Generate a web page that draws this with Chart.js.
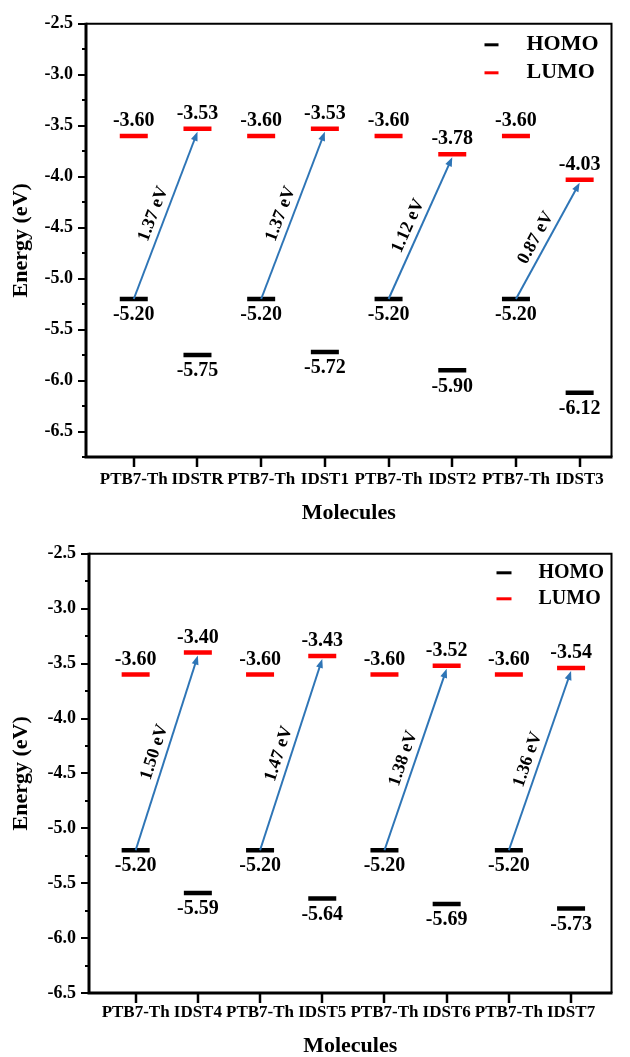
<!DOCTYPE html>
<html>
<head>
<meta charset="utf-8">
<script src="https://cdn.jsdelivr.net/npm/chart.js@4.4.1/dist/chart.umd.min.js"></script>
<style>
  body { margin: 0; background: #fff; }
  canvas { position: absolute; left: 0; }
  #chart-top { top: 0; }
  #chart-bottom { top: 530px; }
</style>
</head>
<body>
<canvas id="chart-top" width="630" height="530"></canvas>
<canvas id="chart-bottom" width="630" height="527"></canvas>
<script>
// --- data ---
const topMolecules = ["PTB7-Th", "IDSTR", "PTB7-Th", "IDST1", "PTB7-Th", "IDST2", "PTB7-Th", "IDST3"];
const topHomo = [-5.20, -5.75, -5.20, -5.72, -5.20, -5.90, -5.20, -6.12];
const topLumo = [-3.60, -3.53, -3.60, -3.53, -3.60, -3.78, -3.60, -4.03];
const topGaps = ["1.37 eV", "1.37 eV", "1.12 eV", "0.87 eV"];

const bottomMolecules = ["PTB7-Th", "IDST4", "PTB7-Th", "IDST5", "PTB7-Th", "IDST6", "PTB7-Th", "IDST7"];
const bottomHomo = [-5.20, -5.59, -5.20, -5.64, -5.20, -5.69, -5.20, -5.73];
const bottomLumo = [-3.60, -3.40, -3.60, -3.43, -3.60, -3.52, -3.60, -3.54];
const bottomGaps = ["1.50 eV", "1.47 eV", "1.38 eV", "1.36 eV"];

const SERIF = "'Liberation Serif', 'Times New Roman', serif";
const ARROW_BLUE = "#2e75b6";

// frame, ticks, value labels, arrows and legend
const energyPlugin = {
  id: "energy",
  afterDraw(chart, args, opts) {
    const { ctx, chartArea: a, scales: { x, y } } = chart;
    ctx.save();

    // frame: thick left/bottom, thinner top/right
    ctx.strokeStyle = "#000";
    ctx.lineWidth = 2;
    ctx.beginPath();
    ctx.moveTo(a.left, a.top);
    ctx.lineTo(a.right, a.top);
    ctx.lineTo(a.right, a.bottom);
    ctx.stroke();
    ctx.lineWidth = 3;
    ctx.beginPath();
    ctx.moveTo(a.left, a.top - 1);
    ctx.lineTo(a.left, a.bottom);
    ctx.lineTo(a.right + 1, a.bottom);
    ctx.stroke();

    // tick marks
    ctx.lineWidth = 2;
    y.ticks.forEach((t) => {
      const py = Math.round(y.getPixelForValue(t.value));
      const major = Math.abs(t.value * 2 - Math.round(t.value * 2)) < 1e-6;
      ctx.beginPath();
      ctx.moveTo(a.left - (major ? 8 : 4), py);
      ctx.lineTo(a.left, py);
      ctx.stroke();
    });
    ctx.lineWidth = 2.5;
    x.ticks.forEach((t) => {
      const px = Math.round(x.getPixelForValue(t.value));
      ctx.beginPath();
      ctx.moveTo(px, a.bottom);
      ctx.lineTo(px, a.bottom + 10);
      ctx.stroke();
    });

    // value labels
    ctx.fillStyle = "#000";
    ctx.font = "bold 20px " + SERIF;
    ctx.textAlign = "center";
    ctx.textBaseline = "middle";
    opts.homo.forEach((v, i) => {
      ctx.fillText(v.toFixed(2), x.getPixelForValue(i), y.getPixelForValue(v) + 16);
    });
    opts.lumo.forEach((v, i) => {
      ctx.fillText(v.toFixed(2), x.getPixelForValue(i), y.getPixelForValue(v) - 15);
    });

    // arrows donor HOMO -> acceptor LUMO
    opts.gaps.forEach((txt, k) => {
      const i0 = 2 * k, i1 = 2 * k + 1;
      const x0 = x.getPixelForValue(i0), y0 = y.getPixelForValue(opts.homo[i0]);
      const x1 = x.getPixelForValue(i1), y1 = y.getPixelForValue(opts.lumo[i1]) + 3;
      const len = Math.hypot(x1 - x0, y1 - y0);
      const ux = (x1 - x0) / len, uy = (y1 - y0) / len;
      const head = 9, half = 3.5;
      ctx.strokeStyle = ARROW_BLUE;
      ctx.fillStyle = ARROW_BLUE;
      ctx.lineWidth = 2;
      ctx.beginPath();
      ctx.moveTo(x0, y0);
      ctx.lineTo(x1 - ux * head * 0.8, y1 - uy * head * 0.8);
      ctx.stroke();
      ctx.beginPath();
      ctx.moveTo(x1, y1);
      ctx.lineTo(x1 - ux * head - uy * half, y1 - uy * head + ux * half);
      ctx.lineTo(x1 - ux * head + uy * half, y1 - uy * head - ux * half);
      ctx.closePath();
      ctx.fill();

      // gap text along the arrow, on its left side
      const mx = (x0 + x1) / 2 + uy * 12 - ux * 3;
      const my = (y0 + y1) / 2 - ux * 12 - uy * 3;
      ctx.save();
      ctx.translate(mx, my);
      ctx.rotate(Math.atan2(y1 - y0, x1 - x0));
      ctx.fillStyle = "#000";
      ctx.font = "bold 18px " + SERIF;
      ctx.fillText(txt, 0, 0);
      ctx.restore();
    });

    // legend
    const L = opts.legend;
    [["HOMO", "#000", L.y0], ["LUMO", "#ff0000", L.y1]].forEach(([name, col, dy]) => {
      const ly = a.top + dy;
      ctx.strokeStyle = col;
      ctx.lineWidth = 3;
      ctx.beginPath();
      ctx.moveTo(a.right - L.m0, ly);
      ctx.lineTo(a.right - L.m1, ly);
      ctx.stroke();
      ctx.fillStyle = "#000";
      ctx.font = "bold " + L.size + "px " + SERIF;
      ctx.textAlign = "left";
      ctx.fillText(name, a.right - L.t, ly);
    });

    ctx.restore();
  }
};

const makeChart = (id, molecules, homo, lumo, gaps, s) => {
  const levels = (vals) => vals.map((v, i) => ({ x: i, y: v }));
  return new Chart(document.getElementById(id), {
    type: "scatter",
    data: {
      datasets: [
        {
          label: "HOMO",
          data: levels(homo),
          pointStyle: "line",
          pointRadius: 14,
          pointHoverRadius: 14,
          borderColor: "#000",
          backgroundColor: "#000",
          borderWidth: 4.5,
        },
        {
          label: "LUMO",
          data: levels(lumo),
          pointStyle: "line",
          pointRadius: 14,
          pointHoverRadius: 14,
          borderColor: "#ff0000",
          backgroundColor: "#ff0000",
          borderWidth: 4.5,
        },
      ],
    },
    options: {
      responsive: false,
      animation: false,
      layout: { padding: { top: s.padTop, right: s.padRight, left: 0, bottom: 0 } },
      plugins: {
        legend: { display: false },
        tooltip: { enabled: false },
        energy: { homo, lumo, gaps, legend: s.legend },
      },
      scales: {
        x: {
          type: "linear",
          min: -0.75,
          max: s.xMax,
          grid: { display: false, drawTicks: false },
          border: { display: false },
          afterBuildTicks: (axis) => {
            axis.ticks = molecules.map((_, i) => ({ value: i }));
          },
          afterFit: (axis) => { axis.height = s.xHeight; },
          ticks: {
            autoSkip: false,
            maxRotation: 0,
            padding: s.xTickPad,
            color: "#000",
            font: { family: SERIF, size: 17, weight: "bold" },
            callback: (v) => molecules[Math.round(v)],
          },
          title: {
            display: true,
            text: "Molecules",
            color: "#000",
            font: { family: SERIF, size: 22, weight: "bold", lineHeight: 1 },
            padding: { top: 0, bottom: s.titlePad },
          },
        },
        y: {
          min: s.yMin,
          max: -2.5,
          grid: { display: false, drawTicks: false },
          border: { display: false },
          afterFit: (axis) => { axis.width = s.yWidth; },
          ticks: {
            stepSize: 0.25,
            padding: 13,
            color: "#000",
            font: { family: SERIF, size: 18, weight: "bold" },
            callback: (v) => (Math.abs(v * 2 - Math.round(v * 2)) < 1e-6 ? v.toFixed(1) : ""),
          },
          title: {
            display: true,
            text: "Energy (eV)",
            color: "#000",
            font: { family: SERIF, size: 22, weight: "bold", lineHeight: 1 },
            padding: { top: 10, bottom: 0 },
          },
        },
      },
    },
    plugins: [energyPlugin],
  });
};

makeChart("chart-top", topMolecules, topHomo, topLumo, topGaps, {
  padTop: 17, padRight: 3, xMax: 7.5, yMin: -6.75, yWidth: 86,
  xHeight: 73, xTickPad: 12, titlePad: 6,
  legend: { m0: 127, m1: 113, t: 85, y0: 21, y1: 49, size: 22 },
});

makeChart("chart-bottom", bottomMolecules, bottomHomo, bottomLumo, bottomGaps, {
  padTop: 23, padRight: 2, xMax: 7.65, yMin: -6.5, yWidth: 89,
  xHeight: 64, xTickPad: 9, titlePad: 0,
  legend: { m0: 115, m1: 100, t: 73, y0: 19, y1: 45, size: 20 },
});
</script>
</body>
</html>
